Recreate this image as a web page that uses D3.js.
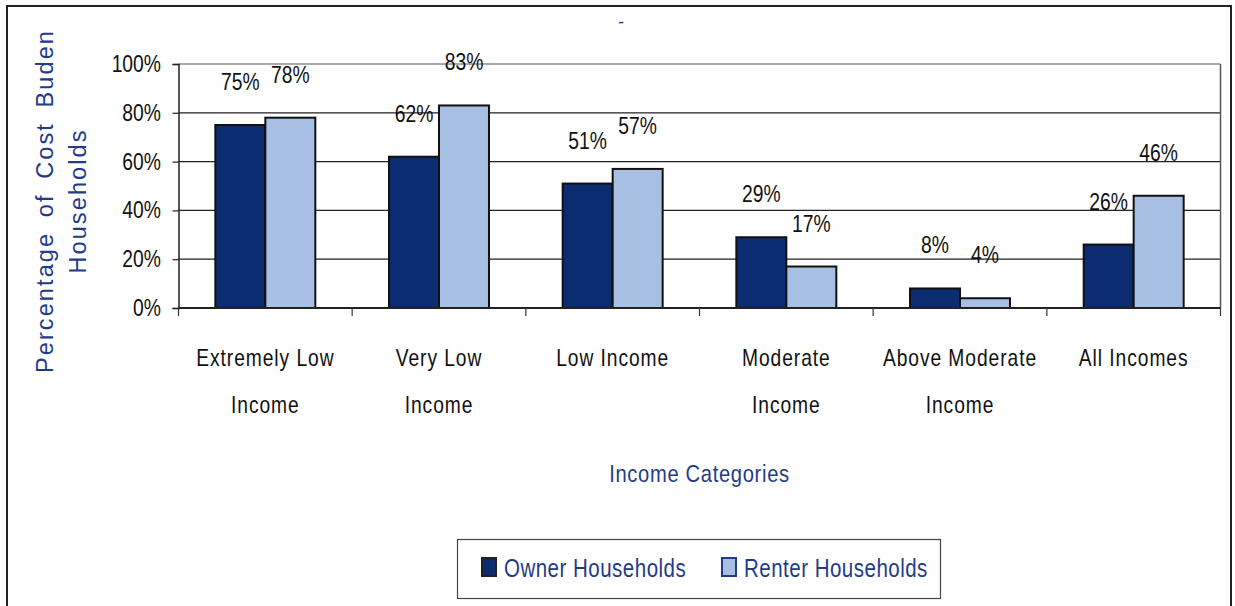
<!DOCTYPE html>
<html><head><meta charset="utf-8">
<script src="https://cdn.jsdelivr.net/npm/d3@7"></script>
<style>
html,body{margin:0;padding:0;background:#fff;}
svg{display:block;}
text{font-family:"Liberation Sans",Arial,sans-serif;}
</style></head>
<body>
<svg id="chart" width="1235" height="606"></svg>
<script>
const categories = [["Extremely Low","Income"],["Very Low","Income"],["Low Income"],["Moderate","Income"],["Above Moderate","Income"],["All Incomes"]];
const seriesNames = ["Owner Households","Renter Households"];
const ownerValues = [75,62,51,29,8,26];
const renterValues = [78,83,57,17,4,46];
const yTicks = [0,20,40,60,80,100];
const colors = ["#0c2c72","#a6bfe3"];
const navy = "#1f3b8a";

const svg = d3.select("#chart");

// condensed text helper (horizontal scale)
function ctext(parent, x, y, str, size, sx, anchor, fill, ls){
  const gg = parent.append("g").attr("transform",`translate(${x},${y}) scale(${sx},1)`);
  const t = gg.append("text").attr("x",0).attr("y",0).attr("font-size",size)
    .attr("text-anchor",anchor||"start").attr("fill",fill||"#111").text(str);
  if(ls) t.attr("letter-spacing",ls+"px");
  return t;
}

// outer frame
svg.append("rect").attr("x",7).attr("y",6).attr("width",1224).attr("height",640)
  .attr("fill","none").attr("stroke","#222").attr("stroke-width",2);

const pL=178.5, pR=1220.5, pT=64, pB=308;
const x0 = d3.scaleBand().domain(d3.range(categories.length)).range([pL,pR]).padding(0);
const x1 = d3.scaleBand().domain([0,1]).range([0,x0.bandwidth()]).paddingInner(0).paddingOuter(0.737);
const y = d3.scaleLinear().domain([0,100]).range([pB,pT]);

// gridlines
svg.append("g").selectAll("line").data(yTicks.filter(d=>d>0)).join("line")
  .attr("x1",pL).attr("x2",pR).attr("y1",d=>y(d)).attr("y2",d=>y(d))
  .attr("stroke",d=>d===100?"#555":"#222").attr("stroke-width",1.2);
svg.append("line").attr("x1",pR).attr("x2",pR).attr("y1",pT).attr("y2",pB)
  .attr("stroke","#555").attr("stroke-width",1.5);

// bars
const data = categories.map((c,i)=>[ownerValues[i],renterValues[i]]);
const g = svg.append("g");
data.forEach((vals,i)=>{
  vals.forEach((v,s)=>{
    g.append("rect").attr("x",x0(i)+x1(s)).attr("y",y(v))
      .attr("width",x1.bandwidth()).attr("height",y(0)-y(v))
      .attr("fill",colors[s]).attr("stroke","#111").attr("stroke-width",2);
    ctext(g, x0(i)+x1(s)+x1.bandwidth()/2, y(v)-35, v+"%", 23, 0.84, "middle");
  });
});

// y axis
const yAxis = d3.axisLeft(y).tickValues(yTicks).tickFormat("").tickSize(6);
const ya = svg.append("g").attr("transform",`translate(${pL},0)`).call(yAxis);
ya.select(".domain").attr("stroke","#222").attr("stroke-width",1.5);
ya.selectAll(".tick line").attr("stroke","#222").attr("stroke-width",1.2);
yTicks.forEach(d=>ctext(svg, 161, y(d)+8, d+"%", 23, 0.84, "end"));

// x axis line & ticks at category boundaries
svg.append("line").attr("x1",pL).attr("x2",pR).attr("y1",pB).attr("y2",pB)
  .attr("stroke","#222").attr("stroke-width",2);
svg.append("g").selectAll("line").data(d3.range(categories.length+1)).join("line")
  .attr("x1",d=>pL+d*x0.step()).attr("x2",d=>pL+d*x0.step())
  .attr("y1",pB).attr("y2",pB+8).attr("stroke","#333").attr("stroke-width",1.2);

// category labels
categories.forEach((lines,i)=>{
  lines.forEach((ln,k)=>{
    ctext(svg, x0(i)+x0.bandwidth()/2, 366+k*47, ln, 24, 0.8, "middle", "#111", 1.2);
  });
});

// axis titles
ctext(svg, (pL+pR)/2, 482, "Income Categories", 24, 0.84, "middle", navy, 0.8);
const yt = svg.append("text").attr("transform","translate(53,201) rotate(-90)")
  .attr("text-anchor","middle").attr("font-size",23.5).attr("fill",navy)
  .attr("letter-spacing","2.1px");
yt.append("tspan").attr("x",0).attr("dy",0).attr("word-spacing","6px").text("Percentage of Cost Buden");
yt.append("tspan").attr("x",0).attr("dy",33).text("Households");

// stray title dash
svg.append("text").attr("x",621).attr("y",28).attr("text-anchor","middle")
  .attr("font-size",18).attr("fill",navy).text("-");

// legend
svg.append("rect").attr("x",457.5).attr("y",539.5).attr("width",483).attr("height",59)
  .attr("fill","#fff").attr("stroke","#444").attr("stroke-width",1.2);
const legX = [482,722];
seriesNames.forEach((n,s)=>{
  svg.append("rect").attr("x",legX[s]).attr("y",558).attr("width",14).attr("height",18)
    .attr("fill",colors[s]).attr("stroke",s===0?"#222":"#1f3b8a").attr("stroke-width",2);
  ctext(svg, legX[s]+22, 577, n, 25, 0.82, "start", navy, 0.6);
});
</script>
</body></html>
